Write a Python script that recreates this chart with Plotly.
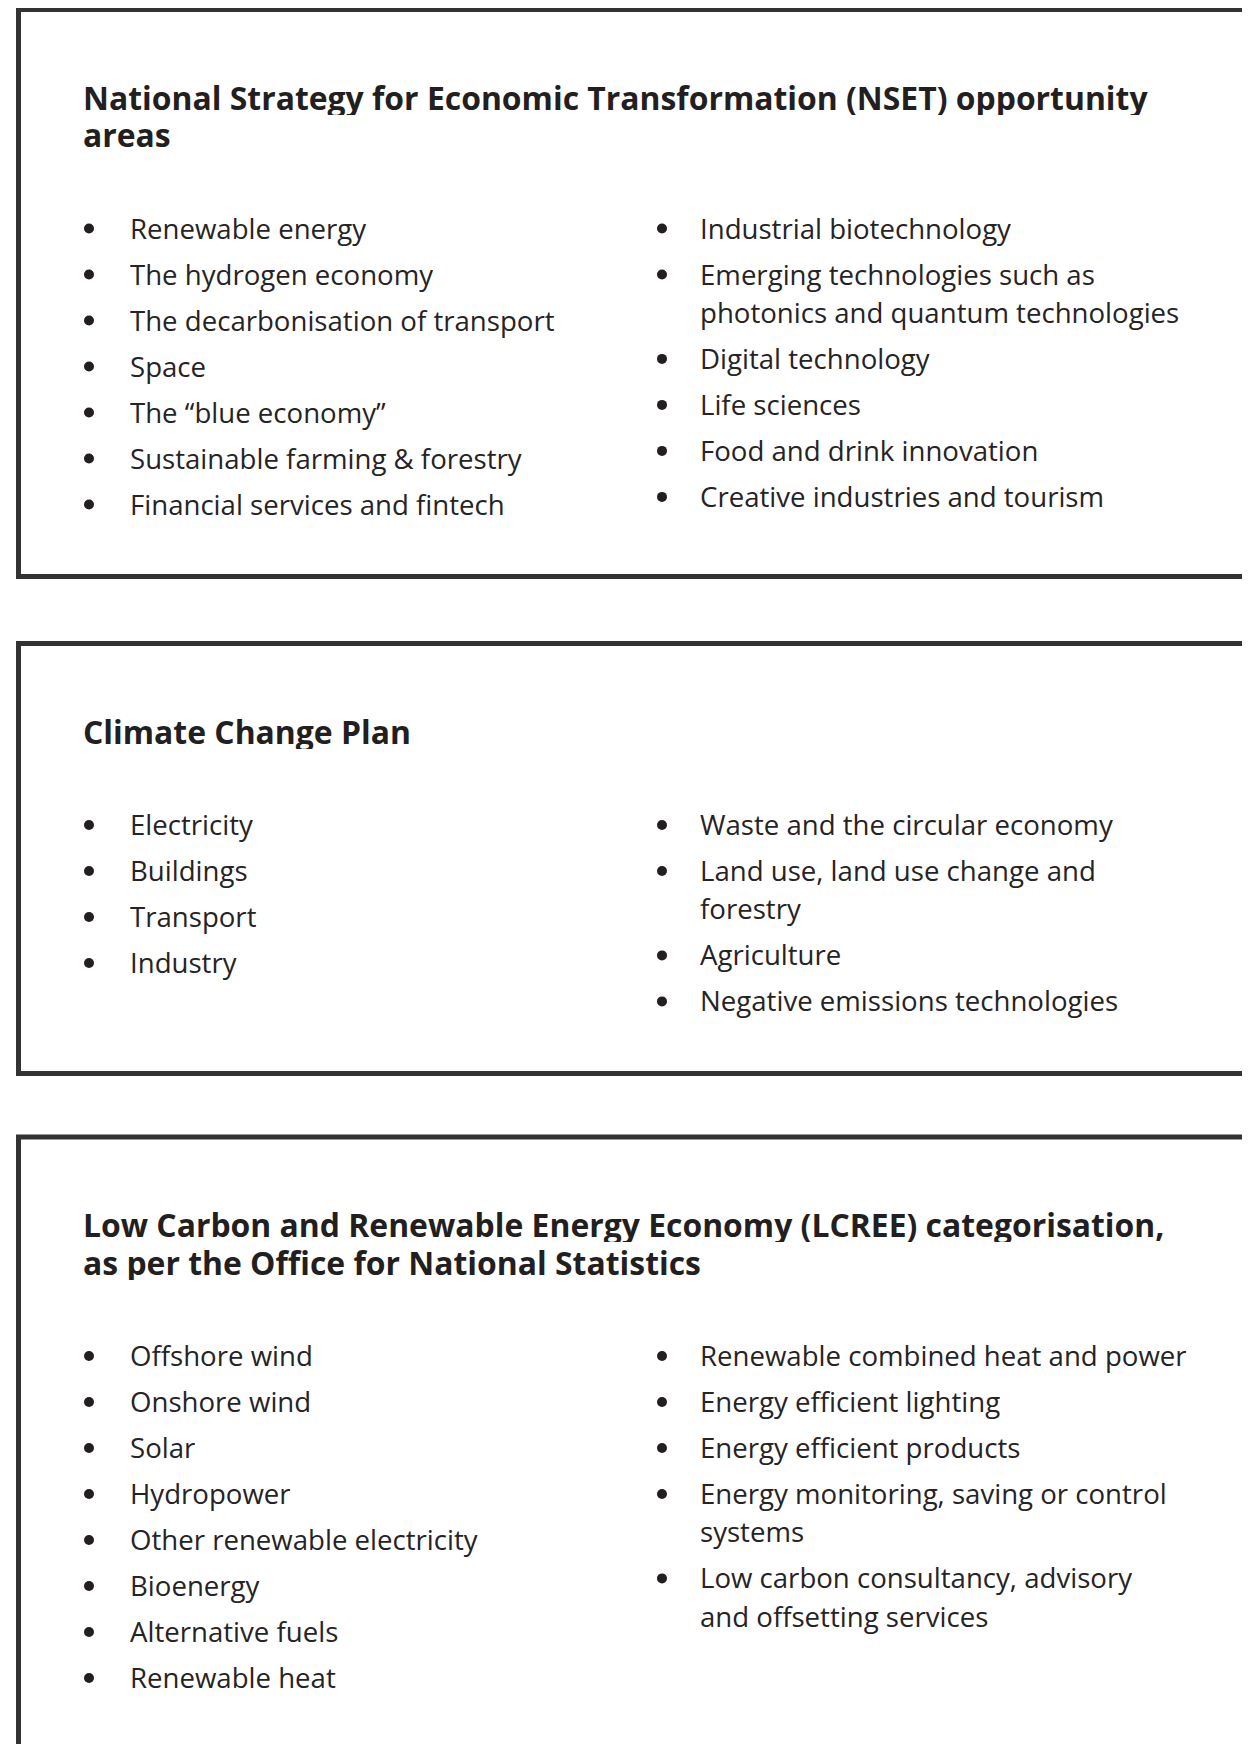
import plotly.graph_objects as go

# ---- content ----
box_titles = [
    "National Strategy for Economic Transformation (NSET) opportunity\nareas",
    "Climate Change Plan",
    "Low Carbon and Renewable Energy Economy (LCREE) categorisation,\nas per the Office for National Statistics",
]
left_items = [
    ["Renewable energy", "The hydrogen economy", "The decarbonisation of transport", "Space",
     "The \u201cblue economy\u201d", "Sustainable farming & forestry", "Financial services and fintech"],
    ["Electricity", "Buildings", "Transport", "Industry"],
    ["Offshore wind", "Onshore wind", "Solar", "Hydropower", "Other renewable electricity",
     "Bioenergy", "Alternative fuels", "Renewable heat"],
]
right_items = [
    ["Industrial biotechnology", "Emerging technologies such as\nphotonics and quantum technologies",
     "Digital technology", "Life sciences", "Food and drink innovation", "Creative industries and tourism"],
    ["Waste and the circular economy", "Land use, land use change and\nforestry", "Agriculture",
     "Negative emissions technologies"],
    ["Renewable combined heat and power", "Energy efficient lighting", "Energy efficient products",
     "Energy monitoring, saving or control\nsystems", "Low carbon consultancy, advisory\nand offsetting services"],
]

# ---- layout constants ----
W, H = 1250, 1744
PAGE_MARGIN = 8       # default browser body margin
FIG_W, FIG_H = W - PAGE_MARGIN, H - PAGE_MARGIN
BOX_TOPS = [9.5, 643.5, 1137]
BOX_LEFT = 18.5
LINE_W = 5
TITLE_OFF = 87
TITLE_STEP = 37.5
BULLET_OFF = 93.5
ITEM_STEP = 46.0
WRAP_STEP = 38.4
BOTTOM_PAD = 73
TITLE_X = 80.5
COLS = [(89, 127.5), (662, 698)]
TXT = "#231f20"
TITLE_FONT = dict(family="Open Sans", size=31.9, color=TXT, weight="bold")
BODY_FONT = dict(family="Open Sans", size=27.6, color="#262324")

fig = go.Figure()
shapes, annotations = [], []
bx_list, by_list = [], []

def col_lines(items, y0):
    out = []
    y = y0
    for it in items:
        lines = it.split("\n")
        for j, ln in enumerate(lines):
            out.append((y, ln, j == 0))
            if j < len(lines) - 1:
                y += WRAP_STEP
        y += ITEM_STEP
    return out, y - ITEM_STEP

for b, top in enumerate(BOX_TOPS):
    tlines = box_titles[b].split("\n")
    ty = top + TITLE_OFF
    for k, t in enumerate(tlines):
        annotations.append(dict(x=TITLE_X, y=ty + k * TITLE_STEP, text=t, showarrow=False,
                                xanchor="left", yanchor="middle", height=36, valign="middle",
                                font=TITLE_FONT))
    y0 = ty + (len(tlines) - 1) * TITLE_STEP + BULLET_OFF
    last = y0
    for c, items in enumerate([left_items[b], right_items[b]]):
        bx, tx = COLS[c]
        lines, ly = col_lines(items, y0)
        last = max(last, ly)
        for (y, ln, first) in lines:
            if first:
                bx_list.append(bx)
                by_list.append(y + 1)
            annotations.append(dict(x=tx, y=y, text=ln.replace("&", "&amp;"), showarrow=False,
                                    xanchor="left", yanchor="middle", height=36, valign="middle",
                                    font=BODY_FONT))
    bottom = last + BOTTOM_PAD
    shapes.append(dict(type="rect", x0=BOX_LEFT, x1=W + 20, y0=top, y1=bottom,
                       line=dict(color="#333333", width=LINE_W), fillcolor="rgba(0,0,0,0)",
                       layer="below"))

fig.add_trace(go.Scatter(x=bx_list, y=by_list, mode="markers",
                         marker=dict(size=10, color=TXT, line=dict(width=0)),
                         hoverinfo="skip", cliponaxis=False))

fig.update_layout(
    width=FIG_W, height=FIG_H, margin=dict(l=0, r=0, t=0, b=0),
    paper_bgcolor="white", plot_bgcolor="white",
    xaxis=dict(range=[PAGE_MARGIN, PAGE_MARGIN + FIG_W], visible=False, fixedrange=True),
    yaxis=dict(range=[PAGE_MARGIN + FIG_H, PAGE_MARGIN], visible=False, fixedrange=True),
    shapes=shapes, annotations=annotations, showlegend=False,
)
fig.write_html("out.html")
